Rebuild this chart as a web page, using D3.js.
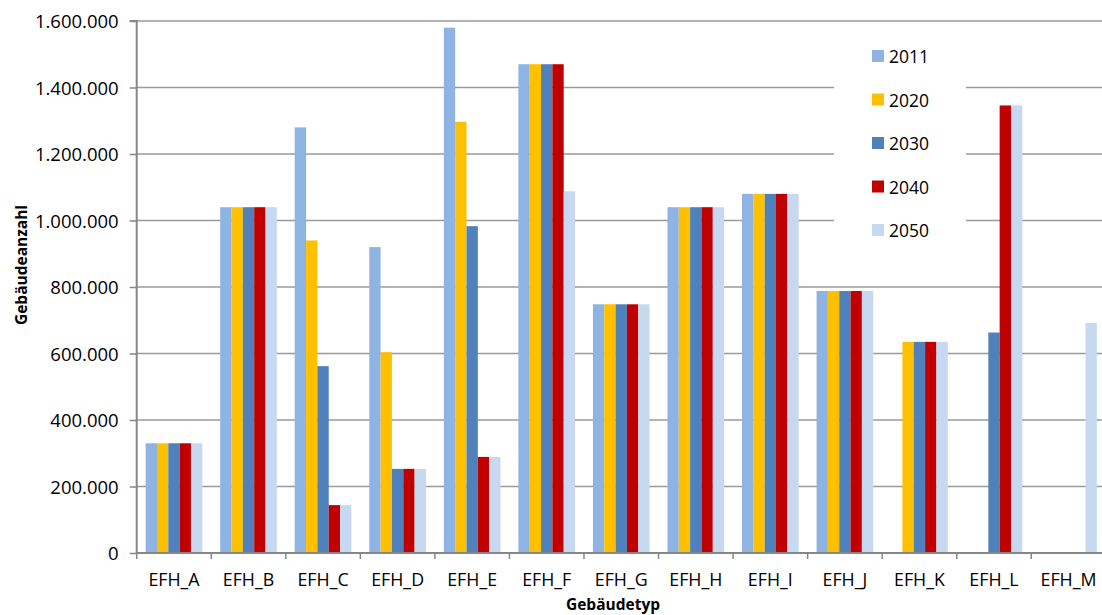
<!DOCTYPE html>
<html>
<head>
<meta charset="utf-8">
<script src="https://cdn.jsdelivr.net/npm/d3@7"></script>
<style>
  html, body { margin: 0; padding: 0; background: #fff; }
  svg { display: block; font-family: "Open Sans", "Noto Sans", sans-serif; }
</style>
</head>
<body>
<svg id="chart" width="1102" height="615"></svg>
<script>
const categories = ["EFH_A","EFH_B","EFH_C","EFH_D","EFH_E","EFH_F","EFH_G","EFH_H","EFH_I","EFH_J","EFH_K","EFH_L","EFH_M"];
const seriesNames = ["2011","2020","2030","2040","2050"];
const v2011 = [330000,1040000,1280000,920000,1580000,1470000,748000,1040000,1080000,788000,null,null,null];
const v2020 = [330000,1040000,940000,604000,1297000,1470000,748000,1040000,1080000,788000,635000,null,null];
const v2030 = [330000,1040000,562000,253000,983000,1470000,748000,1040000,1080000,788000,635000,663000,null];
const v2040 = [330000,1040000,144000,253000,289000,1470000,748000,1040000,1080000,788000,635000,1346000,null];
const v2050 = [330000,1040000,144000,253000,289000,1088000,748000,1040000,1080000,788000,635000,1346000,692000];
const yTicks = [0,200000,400000,600000,800000,1000000,1200000,1400000,1600000];
const colors = ["#8EB4E3","#FFC000","#4F81BD","#C00000","#C6D9F1"];
const seriesValues = [v2011, v2020, v2030, v2040, v2050];

const svg = d3.select("#chart");
const x0 = 136.7, x1 = 1105.8, yTop = 21, yBot = 553;

const x = d3.scaleBand().domain(categories).range([x0, x1]).paddingInner(0.24).paddingOuter(0.12);
const xs = d3.scaleBand().domain(seriesNames).range([0, x.bandwidth()]).padding(0);
const y = d3.scaleLinear().domain([0, 1600000]).range([yBot, yTop]);

const fmt = v => d3.format(",")(v).replace(/,/g, ".");

// gridlines
svg.append("g").selectAll("line").data(yTicks.filter(d => d > 0)).join("line")
  .attr("x1", x0).attr("x2", 1102)
  .attr("y1", d => y(d)).attr("y2", d => y(d))
  .attr("stroke", "#9a9a9a").attr("stroke-width", 1.4);

// bars
const rows = [];
categories.forEach((c, i) => {
  seriesNames.forEach((s, j) => {
    const v = seriesValues[j][i];
    if (v != null) rows.push({c, s, v, color: colors[j]});
  });
});
svg.append("g").selectAll("rect").data(rows).join("rect")
  .attr("x", d => x(d.c) + xs(d.s))
  .attr("width", xs.bandwidth())
  .attr("y", d => y(d.v))
  .attr("height", d => yBot - y(d.v))
  .attr("fill", d => d.color);

// legend (white box covering gridlines)
const legX = 834, legY = 36;
svg.append("rect").attr("x", legX).attr("y", legY).attr("width", 132).attr("height", 222).attr("fill", "#fff");
const leg = svg.append("g");
seriesNames.forEach((s, j) => {
  const cy = 56 + j * 43.5;
  leg.append("rect").attr("x", 872).attr("y", cy - 6).attr("width", 12).attr("height", 12).attr("fill", colors[j]);
  leg.append("text").attr("x", 889).attr("y", cy + 7).attr("font-size", 17.5).attr("fill", "#000").text(s);
});

// y axis
const yAxis = d3.axisLeft(y).tickValues(yTicks).tickFormat(fmt).tickSize(7).tickPadding(11);
const gy = svg.append("g").attr("transform", `translate(${x0},0)`).call(yAxis);
gy.select(".domain").attr("stroke", "#868686").attr("stroke-width", 2).attr("d", `M-7,${yTop}H0V${yBot}`);
gy.selectAll(".tick line").attr("stroke", "#868686").attr("stroke-width", 1.5);
gy.selectAll(".tick text").attr("font-size", 18.5).attr("fill", "#000").attr("font-family", "Open Sans").attr("dy", "0.36em");

// x axis
const xAxis = d3.axisBottom(x).tickSize(0).tickPadding(0);
const gx = svg.append("g").attr("transform", `translate(0,${yBot})`).call(xAxis);
gx.select(".domain").attr("stroke", "#868686").attr("stroke-width", 2).attr("d", `M${x0},0H${x1}`);
gx.selectAll(".tick text").attr("font-size", 17.8).attr("fill", "#000").attr("font-family", "Open Sans").attr("y", 33).attr("dy", 0);
// category boundary tick marks
const bounds = categories.map(c => x(c) - x.step() * x.paddingOuter());
svg.append("g").selectAll("line").data(bounds).join("line")
  .attr("x1", d => d).attr("x2", d => d).attr("y1", yBot).attr("y2", yBot + 6)
  .attr("stroke", "#868686").attr("stroke-width", 1.5);

// axis titles
svg.append("text").attr("transform", "translate(27,265) rotate(-90)")
  .attr("text-anchor", "middle").attr("font-size", 15.5).attr("font-weight", "bold").attr("fill", "#000")
  .text("Gebäudeanzahl");
svg.append("text").attr("x", 613).attr("y", 610)
  .attr("text-anchor", "middle").attr("font-size", 15.5).attr("font-weight", "bold").attr("fill", "#000")
  .text("Gebäudetyp");
</script>
</body>
</html>
